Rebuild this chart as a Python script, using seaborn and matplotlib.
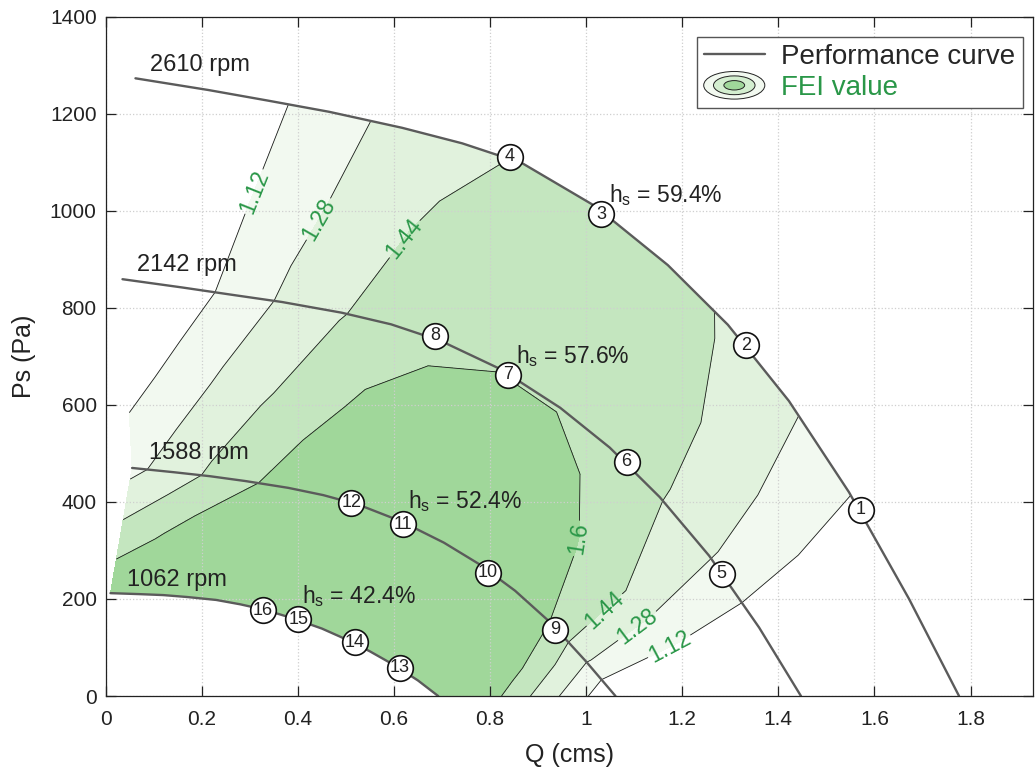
import numpy as np
import pandas as pd
import matplotlib
matplotlib.use("Agg")
import matplotlib.pyplot as plt
import seaborn as sns
from matplotlib.patches import Ellipse
from matplotlib.legend_handler import HandlerBase
from matplotlib.lines import Line2D
from matplotlib.ticker import FuncFormatter, MultipleLocator

sns.set_theme(style="ticks")
plt.rcParams["font.family"] = ["Liberation Sans", "DejaVu Sans"]
plt.rcParams["mathtext.default"] = "regular"

# %% performance curves (Q in cms, Ps in Pa)
rpm = [1062, 1588, 2142, 2610]

q_1062 = [0.01, 0.07, 0.12, 0.17, 0.23, 0.28, 0.33, 0.39, 0.45, 0.50, 0.55, 0.60, 0.65, 0.692]
p_1062 = [212, 210, 208, 204, 198, 189, 178, 160, 139, 117, 92, 64, 32, 0]

q_1588 = [0.055, 0.144, 0.217, 0.291, 0.38, 0.453, 0.527, 0.615, 0.704, 0.777, 0.852, 0.925, 0.999, 1.061]
p_1588 = [470, 461, 453, 443, 429, 414, 394, 360, 316, 272, 217, 152, 72, 0]

q_2142 = [0.035, 0.159, 0.262, 0.367, 0.491, 0.594, 0.697, 0.821, 0.946, 1.049, 1.153, 1.256, 1.36, 1.447]
p_2142 = [859, 842, 827, 812, 790, 766, 732, 674, 594, 512, 410, 289, 141, 0]

q_2610 = [0.062, 0.213, 0.338, 0.465, 0.617, 0.742, 0.867, 1.018, 1.17, 1.295, 1.422, 1.547, 1.672, 1.776]
p_2610 = [1273, 1249, 1227, 1204, 1171, 1139, 1098, 1010, 888, 765, 608, 420, 200, 0]

# FEI on each curve and half-way between neighbouring curves (same columns)
fei_1062 = [1.74, 1.78, 1.81, 1.84, 1.87, 1.89, 1.91, 1.93, 1.94, 1.95, 1.96, 1.96, 1.96, 1.95]
fei_1062_1588 = [1.483, 1.582, 1.665, 1.72, 1.77, 1.81, 1.84, 1.85, 1.84, 1.81, 1.77, 1.73, 1.70, 1.46]
fei_1588 = [1.236, 1.36, 1.466, 1.57, 1.67, 1.73, 1.77, 1.78, 1.76, 1.72, 1.67, 1.599, 1.29, 0.97]
fei_1588_2142 = [1.038, 1.189, 1.309, 1.416, 1.541, 1.625, 1.68, 1.72, 1.72, 1.66, 1.586, 1.432, 1.125, 0.90]
fei_2142 = [0.845, 1.024, 1.168, 1.301, 1.43, 1.52, 1.565, 1.595, 1.592, 1.55, 1.45, 1.29, 1.03, 0.85]
fei_2142_2610 = [0.80, 0.99, 1.116, 1.246, 1.368, 1.47, 1.52, 1.56, 1.56, 1.51, 1.389, 1.211, 0.95, 0.85]
fei_2610 = [0.80, 0.96, 1.08, 1.20, 1.34, 1.387, 1.455, 1.52, 1.51, 1.42, 1.31, 1.125, 0.95, 0.80]

fei_levels = [1.12, 1.28, 1.44, 1.6]

# numbered test points
pt_id = list(range(1, 17))
pt_q = [1.571, 1.333, 1.031, 0.841, 1.282, 1.084, 0.8375, 0.686, 0.936, 0.796, 0.618, 0.511, 0.612, 0.518, 0.401, 0.327]
pt_p = [384, 723, 993, 1111, 252, 483, 662, 742, 137, 254, 354, 398, 58, 111, 158, 177]

eff = [42.4, 52.4, 57.6, 59.4]

# %% build curvilinear grid
qs = [np.array(q_1062), np.array(q_1588), np.array(q_2142), np.array(q_2610)]
ps = [np.array(p_1062), np.array(p_1588), np.array(p_2142), np.array(p_2610)]
Qg, Pg = [], []
for i in range(4):
    Qg.append(qs[i]); Pg.append(ps[i])
    if i < 3:
        Qg.append((qs[i] + qs[i + 1]) / 2); Pg.append((ps[i] + ps[i + 1]) / 2)
Qg = np.vstack(Qg); Pg = np.vstack(Pg)
Zg = np.vstack([fei_1062, fei_1062_1588, fei_1588, fei_1588_2142, fei_2142, fei_2142_2610, fei_2610])

green = "#2a9748"
band_colors = ["#f2f9f0", "#e1f2dd", "#c4e6bf", "#a0d79a"]

fig = plt.figure(figsize=(10.35, 7.69), dpi=100)
ax = fig.add_axes([0.1021, 0.0949, 0.896, 0.8834])

ax.contourf(Qg, Pg, Zg, levels=fei_levels + [2.5], colors=band_colors, zorder=0.3)
cs = ax.contour(Qg, Pg, Zg, levels=fei_levels, colors="k", linewidths=0.6, zorder=1)
ax.clabel(cs, fmt="%g", colors=green, fontsize=16.5, inline=True, inline_spacing=4,
          manual=[(0.305, 1041), (0.431, 990), (0.622, 942), (0.993, 322),
                  (1.043, 172), (1.113, 135), (1.179, 90)])

curves = pd.concat([pd.DataFrame({"Q": q, "Ps": p, "rpm": r}) for q, p, r in zip(qs, ps, rpm)])
sns.lineplot(data=curves, x="Q", y="Ps", units="rpm", estimator=None, sort=False,
             color="#5b5b5b", lw=1.7, ax=ax, zorder=2, legend=False)

sns.scatterplot(x=pt_q, y=pt_p, s=340, color="white", edgecolor="#111", linewidth=1.2,
                ax=ax, zorder=3, legend=False)
for n, x, y in zip(pt_id, pt_q, pt_p):
    ax.text(x, y, str(n), ha="center", va="center", fontsize=13, color="#222", zorder=4)

# speed labels
ax.text(0.092, 1300, "2610 rpm", fontsize=17, va="center", color="#222")
ax.text(0.065, 889, "2142 rpm", fontsize=17, va="center", color="#222")
ax.text(0.09, 501, "1588 rpm", fontsize=17, va="center", color="#222")
ax.text(0.045, 239, "1062 rpm", fontsize=17, va="center", color="#222")

# efficiency labels
for e, (x, y) in zip(eff, [(0.408, 191), (0.63, 387), (0.854, 686), (1.047, 1017)]):
    ax.text(x, y, f"h$_s$ = {e}%", fontsize=16.5, va="baseline", color="#222", zorder=4)

ax.set_xlim(0, 1.93)
ax.set_ylim(0, 1400)
ax.xaxis.set_major_locator(MultipleLocator(0.2))
ax.yaxis.set_major_locator(MultipleLocator(200))
ax.xaxis.set_major_formatter(FuncFormatter(lambda v, _: f"{v:g}"))
ax.set_axisbelow(True)
ax.grid(True, ls=":", color="#cfcfcf", lw=0.9)
ax.tick_params(direction="in", top=True, right=True, length=7, width=0.9, labelsize=15, colors="#222")
ax.tick_params(axis="x", pad=10)
ax.tick_params(axis="y", pad=6.5)
for s in ax.spines.values():
    s.set_color("#222"); s.set_linewidth(0.9)
ax.set_xlabel("Q (cms)", fontsize=18, labelpad=10, color="#222")
ax.set_ylabel("Ps (Pa)", fontsize=18, labelpad=10, color="#222")


class EllipseHandler(HandlerBase):
    def create_artists(self, legend, orig_handle, xdescent, ydescent, width, height, fontsize, trans):
        cx, cy = 0.5 * width - xdescent, 0.5 * height - ydescent
        arts = []
        for k, fc in [(1.0, "#f2f9f0"), (0.68, "#d3eecf"), (0.34, "#a0d79a")]:
            arts.append(Ellipse((cx, cy), width * k, height * 1.3 * k, facecolor=fc,
                                edgecolor="#222", lw=0.7, transform=trans))
        return arts


line_handle = Line2D([], [], color="#5b5b5b", lw=1.7)
fei_handle = Line2D([], [])
leg = ax.legend([line_handle, fei_handle], ["Performance curve", "FEI value"],
                handler_map={fei_handle: EllipseHandler()}, loc="upper right",
                bbox_to_anchor=(0.9887, 0.9697), borderaxespad=0, fontsize=20,
                frameon=True, fancybox=False, framealpha=1, edgecolor="#555",
                borderpad=0.25, labelspacing=0.15, handlelength=2.2, handletextpad=0.6,
                handleheight=0.8)
leg.get_frame().set_linewidth(1)
leg.get_texts()[1].set_color(green)
leg.set_zorder(6)

fig.savefig("out.png", dpi=100)
